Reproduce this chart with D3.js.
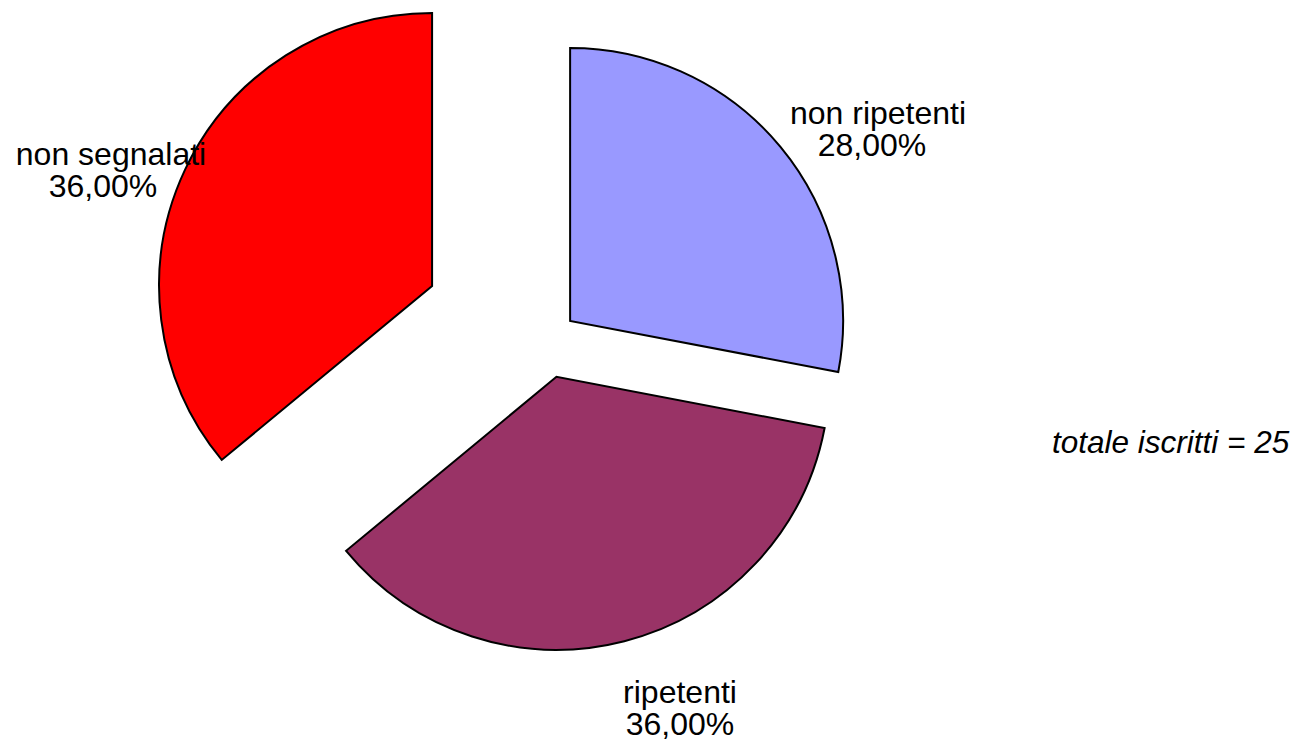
<!DOCTYPE html>
<html>
<head>
<meta charset="utf-8">
<script src="https://cdn.jsdelivr.net/npm/d3@7"></script>
<style>
  html, body { margin: 0; padding: 0; background: #fff; }
  svg { display: block; font-family: "Liberation Sans", Arial, sans-serif; }
</style>
</head>
<body>
<div id="chart"></div>
<script>
// Data
const categories = ["non ripetenti", "ripetenti", "non segnalati"];
const counts = [7, 9, 9];
const colors = ["#9999ff", "#993366", "#ff0000"];
const totalText = "totale iscritti = 25";

// Layout
const width = 1300, height = 744;
const pieCenter = { x: 547, y: 340 };
const radius = 273;
const explode = [30, 38, 127];          // how far each slice is pulled out
const labelPos = [                        // centre x / first baseline / line shift of each label
    { x: 875, y: 124, shift: 3 },
    { x: 680, y: 703, shift: 0 },
    { x: 107, y: 165, shift: 4 }
];
const lineStep = 31.5;

const it = d3.formatLocale({ decimal: ",", thousands: ".", grouping: [3], currency: ["", "€"] });
const pct = it.format(".2%");
const total = d3.sum(counts);

const svg = d3.select("#chart")
    .append("svg")
    .attr("width", width)
    .attr("height", height);

const pie = d3.pie().sort(null).value(d => d);
const arcs = pie(counts);

const arc = d3.arc().innerRadius(0).outerRadius(radius);

// Slices, each shifted along its middle angle
svg.selectAll(".slice")
    .data(arcs)
    .enter()
    .append("path")
    .attr("class", "slice")
    .attr("transform", (d, i) => {
        const mid = (d.startAngle + d.endAngle) / 2;
        const x = pieCenter.x + explode[i] * Math.sin(mid);
        const y = pieCenter.y - explode[i] * Math.cos(mid);
        return `translate(${x},${y})`;
    })
    .attr("d", arc)
    .attr("fill", (d, i) => colors[i])
    .attr("stroke", "#000")
    .attr("stroke-width", 2)
    .attr("stroke-linejoin", "miter");

// Labels: name + percentage
const labels = svg.selectAll(".label")
    .data(arcs)
    .enter()
    .append("text")
    .attr("class", "label")
    .attr("text-anchor", "middle")
    .style("font-size", "32px")
    .style("fill", "#000");

labels.append("tspan")
    .attr("x", (d, i) => labelPos[i].x + labelPos[i].shift)
    .attr("y", (d, i) => labelPos[i].y)
    .text((d, i) => categories[i]);

labels.append("tspan")
    .attr("x", (d, i) => labelPos[i].x - labelPos[i].shift)
    .attr("y", (d, i) => labelPos[i].y + lineStep)
    .text(d => pct(d.value / total));

// Total note
svg.append("text")
    .attr("x", 1052)
    .attr("y", 453)
    .style("font-size", "31.5px")
    .style("font-style", "italic")
    .style("fill", "#000")
    .text(totalText);
</script>
</body>
</html>
